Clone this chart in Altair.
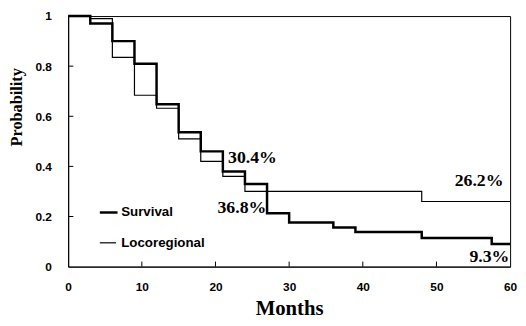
import altair as alt
import pandas as pd

# Kaplan-Meier style step data (months, probability)
surv_t = [0, 3, 6, 9, 12, 15, 18, 21, 24, 27, 30, 36, 39, 48, 57.5, 60]
surv_p = [1.0, 0.97, 0.90, 0.81, 0.648, 0.536, 0.46, 0.38, 0.33, 0.213, 0.176, 0.156, 0.138, 0.114, 0.09, 0.09]
loco_t = [0, 3, 6, 9, 12, 15, 18, 21, 24, 48, 60]
loco_p = [1.0, 0.99, 0.835, 0.684, 0.632, 0.51, 0.42, 0.36, 0.30, 0.26, 0.26]

# annotation labels
ann_text = ["30.4%", "36.8%", "26.2%", "9.3%"]
ann_x = [21.7, 26.9, 59.1, 59.9]
ann_y = [0.433, 0.233, 0.34, 0.038]
ann_align = ["left", "right", "right", "right"]

# legend
leg_names = ["Survival", "Locoregional"]
leg_y = [0.216, 0.095]
leg_x1 = [4.3, 4.3]
leg_x2 = [6.7, 6.5]
leg_tx = [7.2, 7.2]
leg_w = [2.5, 1.2]

x_ticks = [0, 10, 20, 30, 40, 50, 60]
y_ticks = [0, 0.2, 0.4, 0.6, 0.8, 1]

surv = pd.DataFrame({"t": surv_t, "p": surv_p})
loco = pd.DataFrame({"t": loco_t, "p": loco_p})
ann = pd.DataFrame({"label": ann_text, "x": ann_x, "y": ann_y, "align": ann_align})
leg = pd.DataFrame({"name": leg_names, "y": leg_y, "x1": leg_x1, "x2": leg_x2, "tx": leg_tx, "w": leg_w})

xs = alt.Scale(domain=[0, 60], nice=False, zero=False)
ys = alt.Scale(domain=[0, 1], nice=False)

xaxis = alt.Axis(values=x_ticks, grid=False, ticks=False, labelPadding=15,
                 labelFont="Liberation Sans", labelFontWeight="bold", labelFontSize=12,
                 labelColor="black", domainColor="black", title="Months",
                 titleFont="Liberation Serif", titleFontWeight="bold", titleFontSize=21,
                 titleColor="black", titlePadding=6, labelFlush=False)
yaxis = alt.Axis(values=y_ticks, grid=False, ticks=False, labelPadding=17, format="~g",
                 labelFont="Liberation Sans", labelFontWeight="bold", labelFontSize=12,
                 labelColor="black", domainColor="black", title="Probability",
                 titleFont="Liberation Serif", titleFontWeight="bold", titleFontSize=16.5,
                 titleColor="black", titleY=92, titleX=-60, titleBaseline="top",
                 labelFlush=False)

base_surv = alt.Chart(surv).mark_line(interpolate="step-after", color="black", strokeWidth=2.5).encode(
    x=alt.X("t:Q", scale=xs, axis=xaxis),
    y=alt.Y("p:Q", scale=ys, axis=yaxis),
)
base_loco = alt.Chart(loco).mark_line(interpolate="step-after", color="black", strokeWidth=1.2).encode(
    x=alt.X("t:Q", scale=xs),
    y=alt.Y("p:Q", scale=ys),
)

# inward ticks
xt = pd.DataFrame({"v": x_ticks[1:-1], "y0": [0] * 5, "y1": [0.02] * 5})
yt = pd.DataFrame({"v": y_ticks[1:-1], "x0": [0] * 4, "x1": [0.7] * 4})
xtick = alt.Chart(xt).mark_rule(color="black", strokeWidth=1).encode(
    x=alt.X("v:Q", scale=xs), y=alt.Y("y0:Q", scale=ys), y2="y1:Q")
ytick = alt.Chart(yt).mark_rule(color="black", strokeWidth=1).encode(
    y=alt.Y("v:Q", scale=ys), x=alt.X("x0:Q", scale=xs), x2="x1:Q")

ann_layers = []
for a in ["left", "right"]:
    ann_layers.append(
        alt.Chart(ann[ann["align"] == a]).mark_text(
            font="Liberation Serif", fontWeight="bold", fontSize=18, color="black",
            align=a, baseline="middle").encode(
            x=alt.X("x:Q", scale=xs), y=alt.Y("y:Q", scale=ys), text="label:N")
    )

leg_lines = alt.Chart(leg).mark_rule(color="black").encode(
    x=alt.X("x1:Q", scale=xs), x2="x2:Q", y=alt.Y("y:Q", scale=ys),
    strokeWidth=alt.StrokeWidth("w:Q", scale=None))
leg_text = alt.Chart(leg).mark_text(font="Liberation Sans", fontWeight="bold", fontSize=13.5,
                                    color="black", align="left", baseline="middle").encode(
    x=alt.X("tx:Q", scale=xs), y=alt.Y("y:Q", scale=ys), text="name:N")

chart = alt.layer(base_loco, base_surv, xtick, ytick, *ann_layers, leg_lines, leg_text).properties(
    width=448, height=254,
    autosize=alt.AutoSizeParams(type="none"),
    padding={"left": 61, "top": 6, "right": 8, "bottom": 56},
    background="white",
).configure_view(stroke="black", strokeWidth=1)

chart.save("out.html", embed_options={"renderer": "svg", "actions": False})
